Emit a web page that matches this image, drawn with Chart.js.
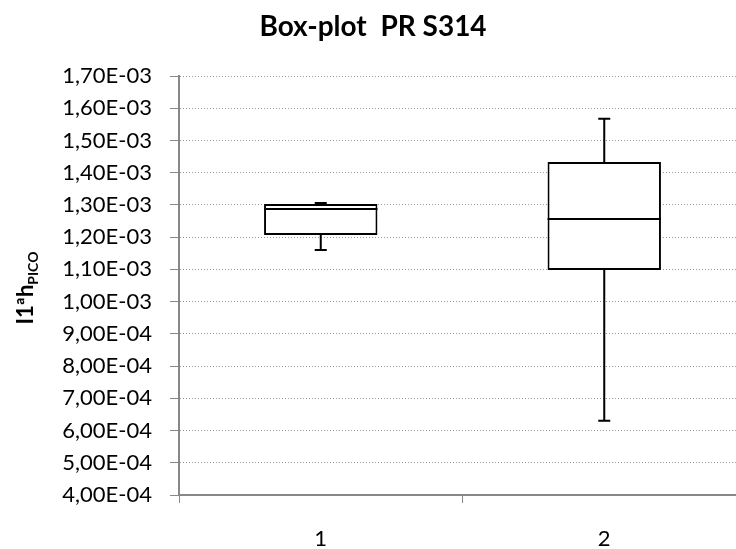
<!DOCTYPE html>
<html>
<head>
<meta charset="utf-8">
<script src="https://cdn.jsdelivr.net/npm/chart.js@4"></script>
<style>
  html, body { margin: 0; padding: 0; background: #fff; overflow: hidden; }
  #wrap { width: 736px; height: 549px; overflow: hidden; }
</style>
</head>
<body>
<div id="wrap"><canvas id="boxChart" width="746" height="549"></canvas></div>
<script>
var categories = ['1', '2'];
var minValues = [1.160e-3, 6.30e-4];
var q1Values = [1.207e-3, 1.098e-3];
var medianValues = [1.287e-3, 1.256e-3];
var q3Values = [1.303e-3, 1.433e-3];
var maxValues = [1.306e-3, 1.567e-3];
var yMin = 4e-4, yMax = 1.7e-3, yStep = 1e-4;

var fontName = 'Lato';

// 1,70E-03 style labels
function sciLabel(v) {
  var parts = Number(v).toExponential(2).split('e');
  var exp = parseInt(parts[1], 10);
  var sign = exp < 0 ? '-' : '+';
  var e = Math.abs(exp);
  return parts[0].replace('.', ',') + 'E' + sign + (e < 10 ? '0' + e : e);
}

var boxParts = {
  id: 'boxParts',
  beforeDatasetsDraw: function (chart) {
    var ctx = chart.ctx, y = chart.scales.y;
    var meta = chart.getDatasetMeta(0);
    ctx.save();
    ctx.strokeStyle = '#000';
    ctx.lineWidth = 2;
    meta.data.forEach(function (bar, i) {
      var lo = y.getPixelForValue(minValues[i]);
      var hi = y.getPixelForValue(maxValues[i]);
      ctx.beginPath();
      ctx.moveTo(bar.x, lo);
      ctx.lineTo(bar.x, hi);
      ctx.moveTo(bar.x - 6, lo);
      ctx.lineTo(bar.x + 6, lo);
      ctx.moveTo(bar.x - 6, hi);
      ctx.lineTo(bar.x + 6, hi);
      ctx.stroke();
    });
    ctx.restore();
  },
  afterDatasetsDraw: function (chart) {
    var ctx = chart.ctx, y = chart.scales.y;
    var meta = chart.getDatasetMeta(0);
    ctx.save();
    ctx.strokeStyle = '#000';
    ctx.lineWidth = 2;
    meta.data.forEach(function (bar, i) {
      var m = y.getPixelForValue(medianValues[i]);
      ctx.beginPath();
      ctx.moveTo(bar.x - bar.width / 2, m);
      ctx.lineTo(bar.x + bar.width / 2, m);
      ctx.stroke();
    });
    ctx.restore();
  },
  afterDraw: function (chart) {
    var ctx = chart.ctx;
    ctx.save();
    ctx.fillStyle = '#000';
    // title
    ctx.font = 'bold 28px ' + fontName;
    ctx.textAlign = 'center';
    ctx.textBaseline = 'alphabetic';
    ctx.fillText('Box-plot  PR S314', 373, 36);
    // y axis title with subscript
    ctx.translate(33, 288);
    ctx.rotate(-Math.PI / 2);
    ctx.font = 'bold 22px ' + fontName;
    var main = 'I1ªh';
    var w1 = ctx.measureText(main).width;
    ctx.font = 'bold 14px ' + fontName;
    var w2 = ctx.measureText('PICO').width;
    var start = -(w1 + w2) / 2;
    ctx.textAlign = 'left';
    ctx.font = 'bold 22px ' + fontName;
    ctx.fillText(main, start, 0);
    ctx.font = 'bold 14px ' + fontName;
    ctx.fillText('PICO', start + w1, 5);
    ctx.restore();
  }
};

var boxData = categories.map(function (c, i) { return [q1Values[i], q3Values[i]]; });

var boxChart = new Chart(document.getElementById('boxChart').getContext('2d'), {
  type: 'bar',
  data: {
    labels: categories,
    datasets: [{
      data: boxData,
      backgroundColor: '#fff',
      borderColor: '#000',
      borderWidth: 2,
      borderSkipped: false,
      barPercentage: 0.4,
      categoryPercentage: 1
    }]
  },
  options: {
    responsive: false,
    animation: false,
    devicePixelRatio: 1,
    layout: { padding: { top: 76, left: 0, right: 0, bottom: 0 } },
    plugins: {
      legend: { display: false },
      title: { display: false },
      tooltip: { enabled: false }
    },
    scales: {
      x: {
        grid: { display: true, drawOnChartArea: false, color: '#888', tickLength: 8, offset: true },
        border: { display: true, color: '#888', width: 2 },
        ticks: { color: '#000', font: { family: fontName, size: 22 }, padding: 23 },
        afterFit: function (scale) { scale.height = 54; }
      },
      y: {
        min: yMin,
        max: yMax,
        grid: { color: '#999', lineWidth: 1, tickLength: 9, tickColor: '#888', tickBorderDash: [] },
        border: { display: true, color: '#888', width: 2, dash: [1, 2] },
        ticks: {
          stepSize: yStep,
          color: '#000',
          font: { family: fontName, size: 22 },
          padding: 18,
          callback: function (v) { return sciLabel(v); }
        },
        afterFit: function (scale) { scale.width = 179; }
      }
    }
  },
  plugins: [boxParts]
});
</script>
</body>
</html>
